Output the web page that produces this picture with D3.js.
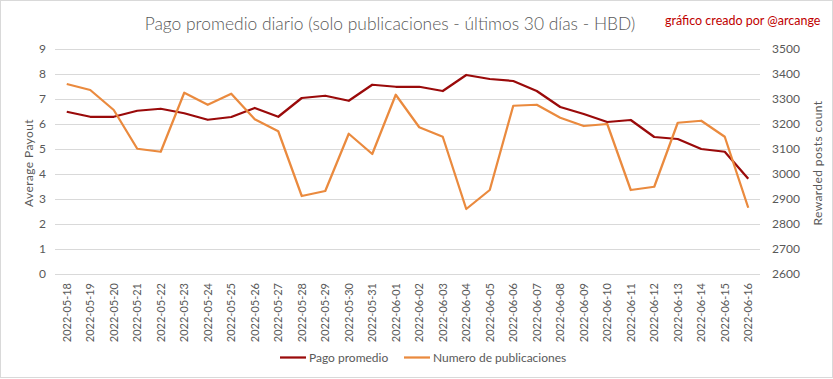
<!DOCTYPE html>
<html><head><meta charset="utf-8">
<script src="https://cdn.jsdelivr.net/npm/d3@7"></script>
<style>
body{margin:0;background:#fff;}
svg{display:block;font-family:Lato,"Open Sans",sans-serif;}
</style></head><body>
<svg id="c" width="833" height="379"></svg>
<script>
const dates = ["2022-05-18","2022-05-19","2022-05-20","2022-05-21","2022-05-22","2022-05-23","2022-05-24","2022-05-25","2022-05-26","2022-05-27","2022-05-28","2022-05-29","2022-05-30","2022-05-31","2022-06-01","2022-06-02","2022-06-03","2022-06-04","2022-06-05","2022-06-06","2022-06-07","2022-06-08","2022-06-09","2022-06-10","2022-06-11","2022-06-12","2022-06-13","2022-06-14","2022-06-15","2022-06-16"];
const pagoPromedio = [6.49,6.29,6.29,6.53,6.61,6.43,6.17,6.28,6.64,6.29,7.04,7.13,6.93,7.57,7.49,7.49,7.32,7.96,7.80,7.72,7.32,6.68,6.40,6.08,6.16,5.48,5.40,5.00,4.89,3.81];
const numeroPublicaciones = [3360,3336,3256,3101,3089,3325,3277,3321,3219,3171,2912,2932,3161,3080,3317,3187,3149,2860,2936,3273,3277,3225,3192,3200,2936,2949,3205,3213,3149,2865];
const leftTicks = [0,1,2,3,4,5,6,7,8,9];
const rightTicks = [2600,2700,2800,2900,3000,3100,3200,3300,3400,3500];
const title = "Pago promedio diario (solo publicaciones - últimos 30 días - HBD)";
const credit = "gráfico creado por @arcange";
const seriesNames = ["Pago promedio","Numero de publicaciones"];

const svg = d3.select("#c");
const W = 833, H = 379;
const plotL = 55, plotR = 760, plotT = 49, plotB = 274;
const red = "#9a0a0a", orange = "#ea8a3e", gray = "#595959", grid = "#d9d9d9";

svg.append("rect").attr("x",0.5).attr("y",0.5).attr("width",W-1).attr("height",H-2)
  .attr("fill","#fff").attr("stroke",grid);

const x = d3.scaleBand().domain(dates).range([plotL, plotR]);
const yL = d3.scaleLinear().domain([0,9]).range([plotB, plotT]);
const yR = d3.scaleLinear().domain([2600,3500]).range([plotB, plotT]);

// gridlines
svg.append("g").selectAll("line").data(leftTicks).join("line")
  .attr("x1",plotL).attr("x2",plotR)
  .attr("y1",d=>Math.round(yL(d))+0.5).attr("y2",d=>Math.round(yL(d))+0.5)
  .attr("stroke",grid).attr("stroke-width",1);

// left axis
const gl = svg.append("g").attr("transform",`translate(${plotL-9},0)`)
  .call(d3.axisLeft(yL).tickValues(leftTicks).tickSize(0).tickPadding(0).tickFormat(d3.format("d")));
gl.select(".domain").remove();
gl.selectAll("text").attr("fill",gray).attr("font-size",12).style("font-family","Lato");

// right axis
const gr = svg.append("g").attr("transform",`translate(${plotR+12},0)`)
  .call(d3.axisRight(yR).tickValues(rightTicks).tickSize(0).tickPadding(0).tickFormat(d3.format("d")));
gr.select(".domain").remove();
gr.selectAll("text").attr("fill",gray).attr("font-size",12).style("font-family","Lato");

// x axis
const gx = svg.append("g").attr("transform",`translate(0,${plotB+9})`)
  .call(d3.axisBottom(x).tickSize(0).tickPadding(0));
gx.select(".domain").remove();
gx.selectAll("text").attr("fill",gray).attr("font-size",11).style("font-family","Lato")
  .attr("transform","rotate(-90)").attr("text-anchor","end")
  .attr("x",0).attr("y",0).attr("dy","0.35em");

// axis titles
svg.append("text").attr("transform","translate(33,163) rotate(-90)")
  .attr("text-anchor","middle").attr("fill",gray).attr("font-size",12)
  .attr("letter-spacing","0.4px").text("Average Payout");
svg.append("text").attr("transform","translate(822,163) rotate(-90)")
  .attr("text-anchor","middle").attr("fill",gray).attr("font-size",12)
  .attr("letter-spacing","0.4px").text("Rewarded posts count");

// lines
const cx = d => x(d) + x.bandwidth()/2;
const lineL = d3.line().x((d,i)=>cx(dates[i])).y(d=>yL(d));
const lineR = d3.line().x((d,i)=>cx(dates[i])).y(d=>yR(d));
svg.append("path").datum(pagoPromedio).attr("d",lineL).attr("fill","none")
  .attr("stroke",red).attr("stroke-width",2.25).attr("stroke-linejoin","round");
svg.append("path").datum(numeroPublicaciones).attr("d",lineR).attr("fill","none")
  .attr("stroke",orange).attr("stroke-width",2.25).attr("stroke-linejoin","round");

// title
svg.append("text").attr("x",390).attr("y",30).attr("text-anchor","middle")
  .attr("fill",gray).attr("font-size",17.4).attr("font-weight",300).text(title);
svg.append("text").attr("x",665).attr("y",25).attr("fill","#c00000")
  .attr("font-size",12.5).text(credit);

// legend
const leg = [{name:seriesNames[0],color:red,x1:280,x2:306,tx:309},
             {name:seriesNames[1],color:orange,x1:404,x2:430,tx:433}];
const lg = svg.append("g");
leg.forEach(l=>{
  lg.append("line").attr("x1",l.x1).attr("x2",l.x2).attr("y1",357.5).attr("y2",357.5)
    .attr("stroke",l.color).attr("stroke-width",2.25);
  lg.append("text").attr("x",l.tx).attr("y",361.5).attr("fill",gray).attr("font-size",12).text(l.name);
});
</script>
</body></html>
